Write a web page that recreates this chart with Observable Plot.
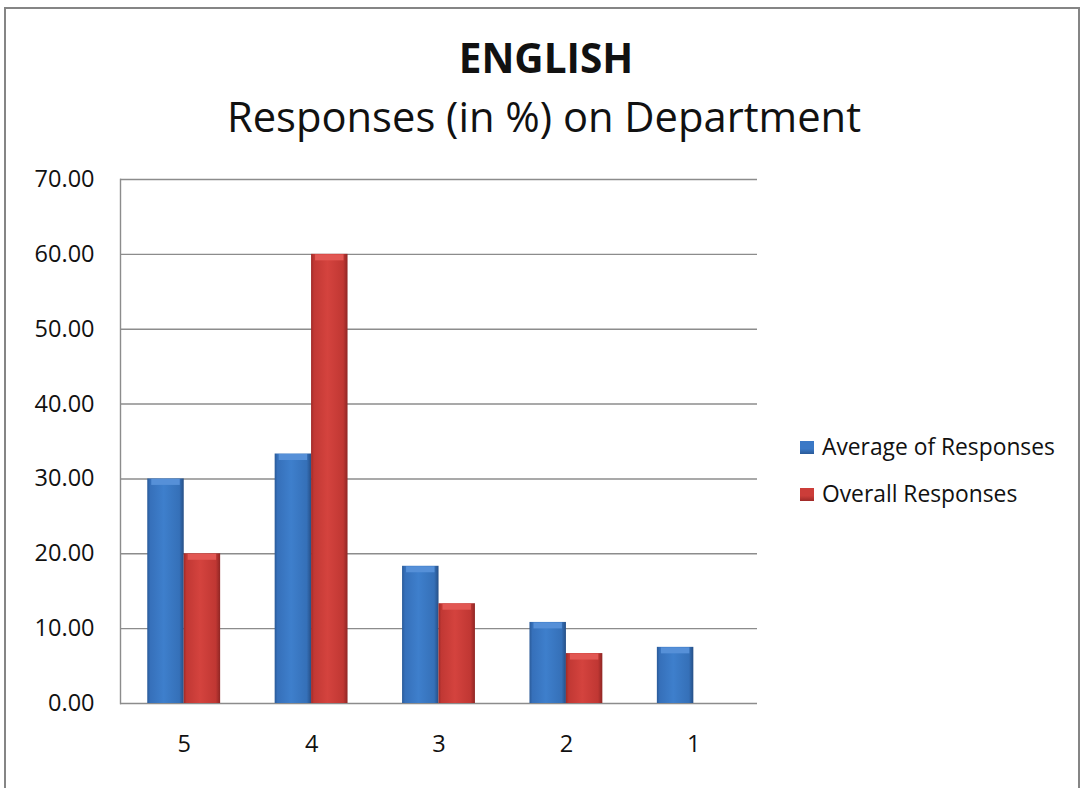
<!DOCTYPE html>
<html>
<head>
<meta charset="utf-8">
<script src="https://cdn.jsdelivr.net/npm/d3@7"></script>
<script src="https://cdn.jsdelivr.net/npm/@observablehq/plot@0.6"></script>
<style>
  html, body { margin: 0; padding: 0; background: #fff; }
  #chart { position: relative; width: 1085px; height: 788px; overflow: hidden; font-family: "Open Sans", sans-serif; color: #111; }
  #chart svg { position: absolute; left: 0; top: 0; }
  #frame { position: absolute; left: 4px; top: 7px; width: 1076px; height: 820px; border: 2px solid #858585; box-sizing: border-box; pointer-events: none; }
  .title { position: absolute; left: 0; width: 1092px; text-align: center; line-height: 1; white-space: nowrap; }
  #t1 { top: 38px; font-size: 40.5px; font-weight: 700; }
  #t2 { top: 95px; font-size: 41.7px; font-weight: 400; width: 1088px; }
  #legend { position: absolute; left: 800px; top: 433px; font-size: 22.8px; line-height: 1; }
  .item { display: flex; align-items: center; height: 28px; margin-bottom: 19px; white-space: nowrap; }
  .swatch { width: 14px; height: 13px; margin-right: 8px; }
</style>
</head>
<body>
<div id="chart">
  <div id="frame"></div>
  <div class="title" id="t1"></div>
  <div class="title" id="t2"></div>
  <div id="legend"></div>
</div>
<script>
// Rating categories (5 = best) and the share of responses for each, in %
const categories = ["5", "4", "3", "2", "1"];
const averageOfResponses = [30.00, 33.33, 18.33, 10.83, 7.50];
const overallResponses = [20.00, 60.00, 13.33, 6.67, 0.00];
const seriesNames = ["Average of Responses", "Overall Responses"];
const yTicks = [0, 10, 20, 30, 40, 50, 60, 70];
const titleText = "ENGLISH";
const subtitleText = "Responses (in %) on Department";

const rows = categories.map((c, i) => ({category: c, average: averageOfResponses[i], overall: overallResponses[i]}));

document.getElementById("t1").textContent = titleText;
document.getElementById("t2").textContent = subtitleText;

const half = 36.4; // half of the band: each series fills one side of the category group

const plot = Plot.plot({
  width: 1085,
  height: 788,
  marginTop: 179,
  marginLeft: 120,
  marginRight: 328,
  marginBottom: 85,
  style: {fontFamily: "'Open Sans', sans-serif", fontSize: "23.5px", color: "#111", background: "transparent"},
  x: {type: "band", domain: categories, paddingInner: 0.428, paddingOuter: 0.214, align: 0.5, round: false, label: null},
  y: {domain: [0, 70], label: null},
  marks: [
    Plot.ruleY(yTicks, {stroke: "#8c8c8c", strokeWidth: 1.4}),
    Plot.frame({anchor: "left", stroke: "#8c8c8c", strokeWidth: 1.4}),
    Plot.barY(rows, {x: "category", y: "average", fill: "url(#gradBlue)", insetRight: half}),
    Plot.barY(rows, {x: "category", y: "overall", fill: "url(#gradRed)", insetLeft: half}),
    // light bevel along the top of each bar
    Plot.tickY(rows.filter(d => d.average > 0), {x: "category", y: "average", stroke: "#5690d8", strokeWidth: 6, dy: 3, insetLeft: 4, insetRight: half + 4}),
    Plot.tickY(rows.filter(d => d.overall > 0), {x: "category", y: "overall", stroke: "#e25753", strokeWidth: 6, dy: 3, insetLeft: half + 4, insetRight: 4}),
    Plot.axisY({ticks: yTicks, tickSize: 0, tickPadding: 26, tickFormat: d => d.toFixed(2), label: null}),
    Plot.axisX({tickSize: 0, tickPadding: 32, label: null})
  ]
});

// horizontal shading for the bars
const svgNS = "http://www.w3.org/2000/svg";
const defs = document.createElementNS(svgNS, "defs");
function addGradient(id, stops) {
  const g = document.createElementNS(svgNS, "linearGradient");
  g.setAttribute("id", id);
  g.setAttribute("x1", "0"); g.setAttribute("x2", "1");
  g.setAttribute("y1", "0"); g.setAttribute("y2", "0");
  for (const [off, col] of stops) {
    const s = document.createElementNS(svgNS, "stop");
    s.setAttribute("offset", off);
    s.setAttribute("stop-color", col);
    g.appendChild(s);
  }
  defs.appendChild(g);
}
addGradient("gradBlue", [["0", "#2a5a98"], ["0.08", "#3670ba"], ["0.45", "#3e7fcc"], ["0.88", "#3570b8"], ["1", "#264f86"]]);
addGradient("gradRed", [["0", "#9e2a28"], ["0.08", "#c13834"], ["0.45", "#d4433e"], ["0.88", "#c03733"], ["1", "#8f2624"]]);
plot.insertBefore(defs, plot.firstChild);

document.getElementById("chart").insertBefore(plot, document.getElementById("frame"));

// legend
const legend = document.getElementById("legend");
[["#3a78c6", "#2a5a98"], ["#cc3d39", "#9e2a28"]].forEach(([c, dark], i) => {
  const item = document.createElement("div");
  item.className = "item";
  const sw = document.createElement("div");
  sw.className = "swatch";
  sw.style.background = `linear-gradient(180deg, ${c} 0%, ${c} 60%, ${dark} 100%)`;
  const label = document.createElement("span");
  label.textContent = seriesNames[i];
  item.appendChild(sw);
  item.appendChild(label);
  legend.appendChild(item);
});
</script>
</body>
</html>
